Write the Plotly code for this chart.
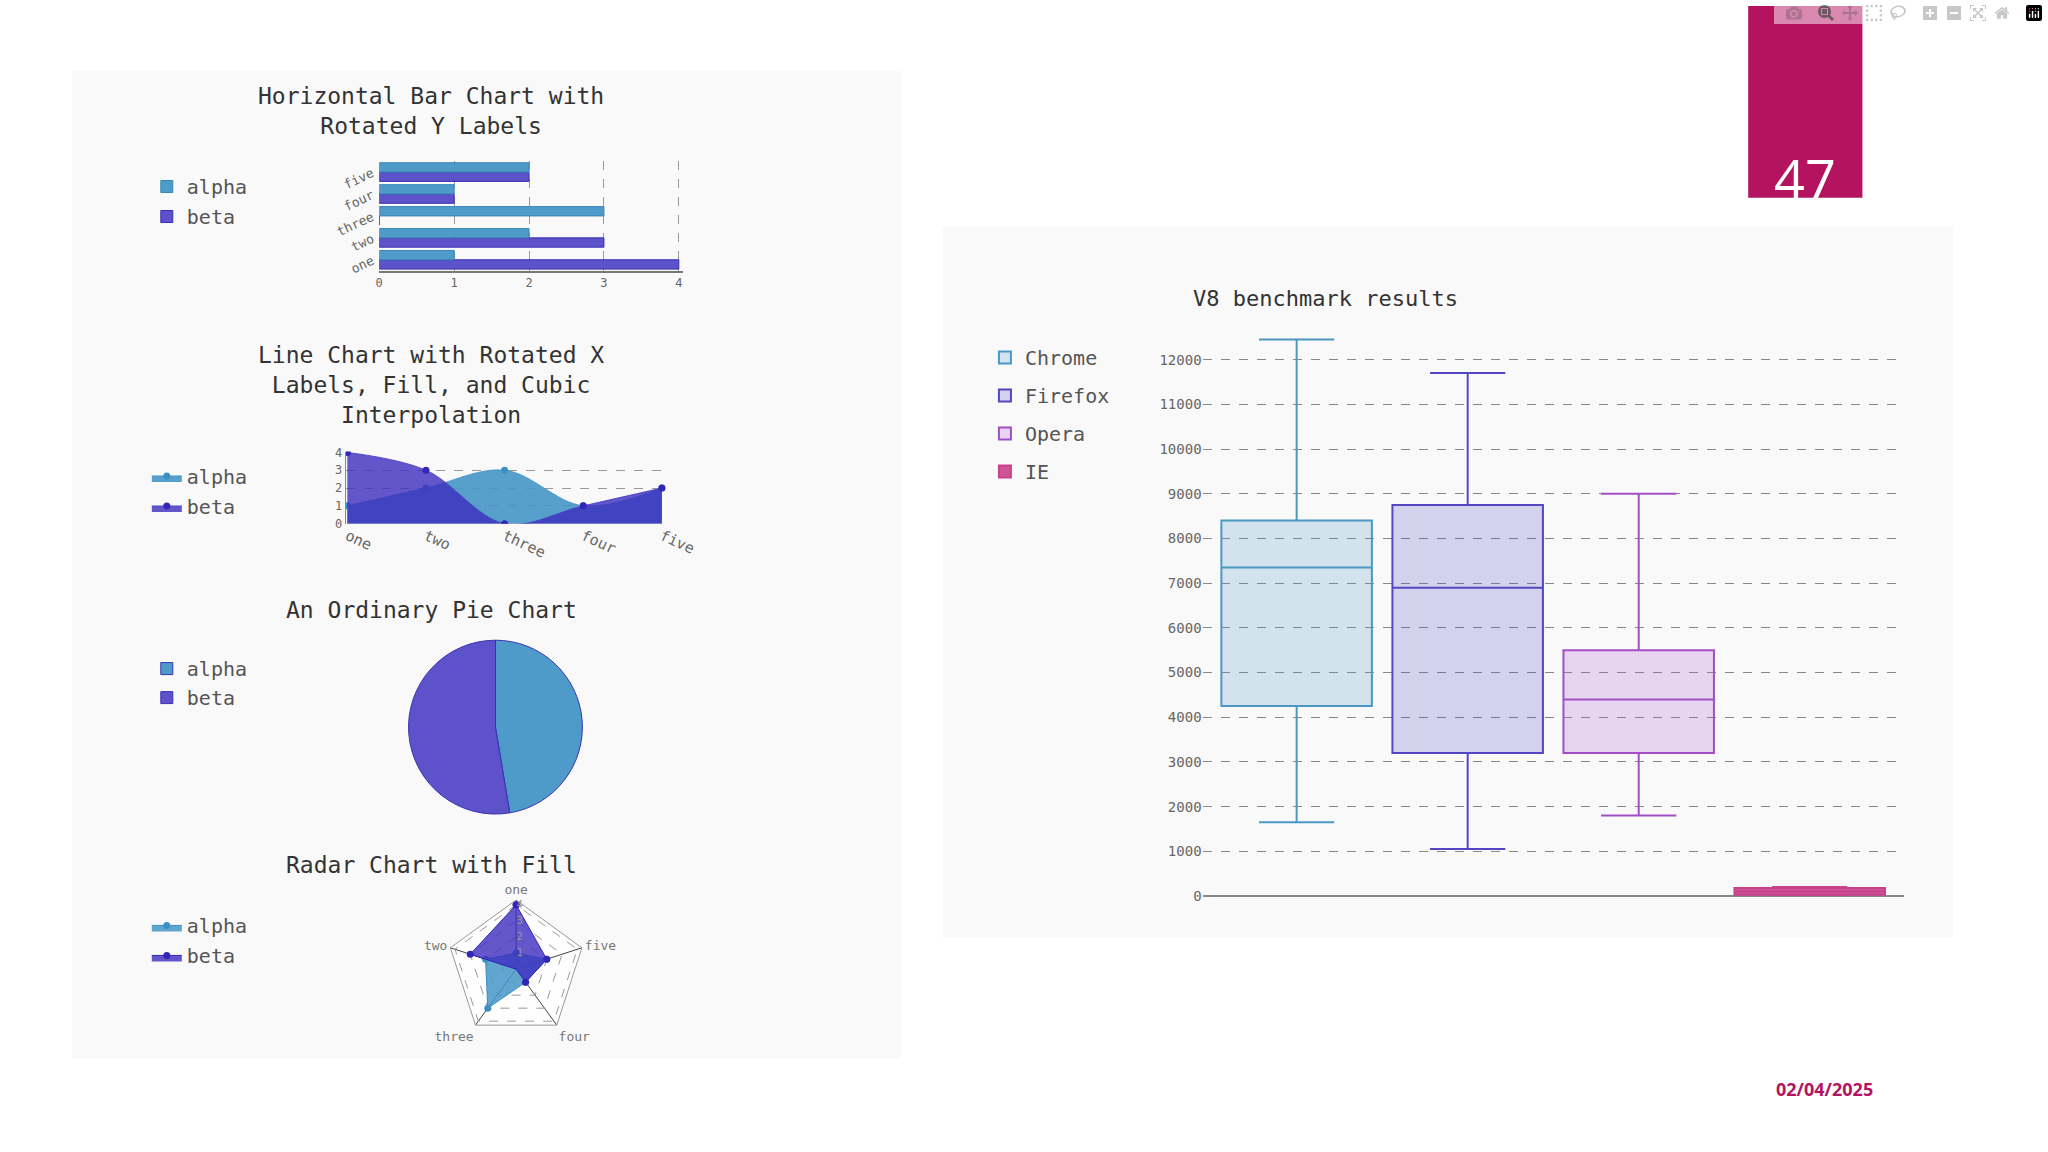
import plotly.graph_objects as go

W, H = 2048, 1152
cats = ["one", "two", "three", "four", "five"]
alpha = [1, 2, 3, 1, 2]
beta = [4, 3, 0, 1, 2]
pie_labels = ["alpha", "beta"]
pie_values = [9, 10]
browsers = ["Chrome", "Firefox", "Opera", "IE"]
b_low = [1650, 1050, 1800, 0]
b_q1 = [4250, 3200, 3200, 30]
b_med = [7350, 6900, 4400, 100]
b_q3 = [8400, 8750, 5500, 180]
b_high = [12450, 11700, 9000, 200]
box_ticks = list(range(0, 12001, 1000))

CA = "rgba(69,150,199,0.95)"
CB = "rgba(76,63,196,0.9)"
b_line = ["#4a97c6", "#5446c2", "#a24fc5", "#c8428a"]
b_fill = ["rgba(74,151,198,0.22)", "rgba(84,70,194,0.22)", "rgba(170,80,200,0.22)", "rgba(200,66,138,0.9)"]
MONO = "DejaVu Sans Mono"

def px(x0, x1):
    return [x0 / W, x1 / W]
def py(y0, y1):
    return [1 - y1 / H, 1 - y0 / H]

fig = go.Figure()

fig.add_trace(go.Bar(y=cats, x=beta, orientation="h", name="beta", marker=dict(color=CB, line=dict(color="#3a2fb0", width=1)),
                     xaxis="x", yaxis="y", legend="legend", legendrank=2, legendgroup="b1"))
fig.add_trace(go.Bar(y=cats, x=alpha, orientation="h", name="alpha", marker=dict(color=CA, line=dict(color="#3a86b8", width=1)),
                     xaxis="x", yaxis="y", legend="legend", legendrank=1, legendgroup="a1"))
fig.add_trace(go.Scatter(x=cats, y=alpha, name="alpha", mode="lines+markers", line=dict(shape="spline", color=CA, width=1),
                         fill="tozeroy", fillcolor="rgba(69,150,199,0.9)", marker=dict(size=7, color="#3a8fc4"),
                         xaxis="x2", yaxis="y2", legend="legend2", legendgroup="a2"))
fig.add_trace(go.Scatter(x=cats, y=beta, name="beta", mode="lines+markers", line=dict(shape="spline", color=CB, width=1),
                         fill="tozeroy", fillcolor="rgba(60,45,190,0.8)", marker=dict(size=7, color="#3226b8"),
                         xaxis="x2", yaxis="y2", legend="legend2", legendgroup="b2"))
fig.add_trace(go.Pie(labels=pie_labels, values=pie_values, sort=False, direction="clockwise", textinfo="none",
                     marker=dict(colors=[CA, CB], line=dict(color="#3b33b5", width=1)),
                     domain=dict(x=px(369, 629), y=py(642, 818)), legend="legend3"))
for name, vals, col, fc in [("alpha", alpha, "#3a8fc4", "rgba(69,150,199,0.85)"), ("beta", beta, "#3226b8", "rgba(60,45,190,0.8)")]:
    fig.add_trace(go.Scatterpolar(r=vals + [vals[0]], theta=cats + [cats[0]], name=name, mode="lines+markers",
                                  fill="toself", fillcolor=fc, line=dict(color=col, width=1), marker=dict(size=7, color=col),
                                  subplot="polar", legend="legend4", legendgroup=name + "4"))
for i, b in enumerate(browsers):
    fig.add_trace(go.Box(x=[b], name=b, q1=[b_q1[i]], median=[b_med[i]], q3=[b_q3[i]], lowerfence=[b_low[i]], upperfence=[b_high[i]],
                         fillcolor=b_fill[i], line=dict(color=b_line[i], width=2), whiskerwidth=0.5, width=0.88,
                         xaxis="x3", yaxis="y3", legend="legend5", legendgroup=b, boxpoints=False))

tick = dict(family=MONO, size=12, color="#666")
leg = dict(font=dict(family=MONO, size=20, color="#555"), bgcolor="rgba(0,0,0,0)", xanchor="left", yanchor="top", tracegroupgap=1)

fig.update_layout(
    width=W, height=H, margin=dict(l=0, r=0, t=0, b=0), paper_bgcolor="white", plot_bgcolor="#fefefe",
    barmode="group", bargap=0.15, bargroupgap=0,
    xaxis=dict(domain=px(381, 689), range=[0, 4.05], tickvals=[0, 1, 2, 3, 4], tickfont=tick, showgrid=True,
               gridcolor="#999", griddash="dash", showline=True, linecolor="#777", linewidth=2, zeroline=False),
    yaxis=dict(domain=py(157, 268), anchor="x", tickangle=-25, tickfont=dict(family=MONO, size=13, color="#666"),
               showgrid=False, showline=False, ticklabelstandoff=6),
    xaxis2=dict(domain=px(347, 676), anchor="y2", tickangle=25, tickfont=dict(family=MONO, size=15, color="#666"), showgrid=False,
                range=[-0.02, 4.1]),
    yaxis2=dict(domain=py(451, 524), anchor="x2", range=[0, 4.05], tickvals=[0, 1, 2, 3, 4], tickfont=tick,
                gridcolor="#999", griddash="dash", zeroline=False, showline=True, linecolor="#888"),
    polar=dict(domain=dict(x=px(400, 640), y=py(905, 1045)), bgcolor="#fefefe",
               angularaxis=dict(rotation=90, direction="counterclockwise", gridcolor="#444", linecolor="#999",
                                tickfont=dict(family=MONO, size=13, color="#777")),
               radialaxis=dict(range=[0, 4.3], tickvals=[1, 2, 3, 4], gridcolor="#999", griddash="dash", showline=False,
                               tickfont=dict(family=MONO, size=10, color="#999"), angle=90, tickangle=90),
               gridshape="linear"),
    xaxis3=dict(domain=px(1217, 1929), anchor="y3", showticklabels=False, showgrid=False, range=[-0.55, 3.55]),
    yaxis3=dict(domain=py(330, 901), anchor="x3", range=[0, 12620], tickvals=box_ticks, ticktext=[str(v) for v in box_ticks],
                tickfont=dict(family=MONO, size=14, color="#666"), gridcolor="#888", griddash="dash",
                zeroline=True, zerolinecolor="#888", zerolinewidth=2),
    legend=dict(leg, x=145 / W, y=1 - 163 / H),
    legend2=dict(leg, x=145 / W, y=1 - 456 / H),
    legend3=dict(leg, x=145 / W, y=1 - 651 / H),
    legend4=dict(leg, x=145 / W, y=1 - 911 / H),
    legend5=dict(font=dict(family=MONO, size=20, color="#555"), bgcolor="rgba(0,0,0,0)", xanchor="left", yanchor="top",
                 x=996 / W, y=1 - 336 / H, tracegroupgap=9),
    showlegend=True,
)

shapes = [
    dict(type="rect", xref="paper", yref="paper", x0=69 / W, x1=911 / W, y0=1 - 1066 / H, y1=1 - 66 / H, fillcolor="#f9f9f9", line=dict(width=0), layer="below"),
    dict(type="rect", xref="paper", yref="paper", x0=953 / W, x1=1979 / W, y0=1 - 943 / H, y1=1 - 224 / H, fillcolor="#f9f9f9", line=dict(width=0), layer="below"),
    dict(type="rect", xref="paper", yref="paper", x0=1771 / W, x1=1887 / W, y0=1 - 194 / H, y1=1, fillcolor="#b3135f", line=dict(width=0)),
]
fig.update_layout(shapes=shapes)

titles = [
    ("Horizontal Bar Chart with<br>Rotated Y Labels", 434, 106),
    ("Line Chart with Rotated X<br>Labels, Fill, and Cubic<br>Interpolation", 434, 384),
    ("An Ordinary Pie Chart", 434, 611),
    ("Radar Chart with Fill", 434, 870),
]
ann = []
for t, x, y in titles:
    ann.append(dict(text=t, x=x / W, y=1 - y / H, xref="paper", yref="paper", showarrow=False, xanchor="center", yanchor="middle",
                    font=dict(family=MONO, size=23, color="#333"), align="center"))
ann.append(dict(text="V8 benchmark results", x=1478 / W, y=1 - 281 / H, xref="paper", yref="paper", showarrow=False,
                font=dict(family=MONO, size=22, color="#333")))
ann.append(dict(text="47", x=1829 / W, y=1 - 135 / H, xref="paper", yref="paper", showarrow=False, xanchor="center",
                width=110, align="center", font=dict(family="Open Sans", size=54, color="white")))
ann.append(dict(text="<b>02/04/2025</b>", x=1900 / W, y=1 - 1111 / H, xref="paper", yref="paper", showarrow=False,
                font=dict(family="Open Sans", size=18, color="#b3135f")))
fig.update_layout(annotations=ann)

fig.write_html("out.html", post_script="document.body.style.margin='0';document.body.style.padding='0';")
